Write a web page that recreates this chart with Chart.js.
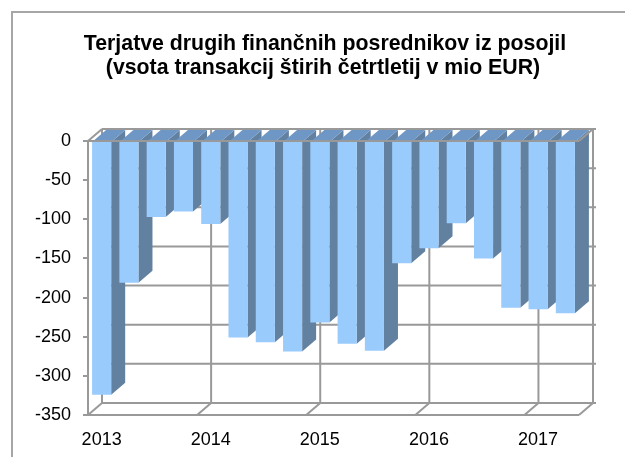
<!DOCTYPE html>
<html>
<head>
<meta charset="utf-8">
<script src="https://cdn.jsdelivr.net/npm/chart.js@4/dist/chart.umd.min.js"></script>
<style>
  html, body { margin: 0; padding: 0; background: #fff; }
  #wrap { position: relative; width: 625px; height: 457px; overflow: hidden; }
  #frame { position: absolute; left: 11px; top: 11px; width: 700px; height: 600px;
           border-left: 2px solid #a6a6a6; border-top: 2px solid #a6a6a6; }
  canvas { position: absolute; left: 0; top: 0; }
</style>
</head>
<body>
<div id="wrap">
  <div id="frame"></div>
  <canvas id="chart" width="625" height="457"></canvas>
</div>
<script>
// quarterly data, year label on first quarter only
const categories = ["2013", "", "", "", "2014", "", "", "", "2015", "", "", "", "2016", "", "", "", "2017", ""];
const values = [-324, -181, -97, -90, -106, -251, -257, -269, -232, -259, -268, -156, -137, -105, -150, -213, -215, -220];
const yTicks = [0, -50, -100, -150, -200, -250, -300, -350];
const yearStarts = [4, 8, 12, 16];
const titleLines = ["Terjatve drugih finančnih posrednikov iz posojil", "(vsota transakcij štirih četrtletij v mio EUR)"];

const DX = 14, DY = 12;
const gridColor = "#999999";

function line(ctx, x1, y1, x2, y2) {
  ctx.beginPath();
  ctx.moveTo(x1, y1);
  ctx.lineTo(x2, y2);
  ctx.stroke();
}

// title is drawn here so it can sit off-centre like in the original
const titlePlugin = {
  id: "titlePlugin",
  afterDraw(chart) {
    const ctx = chart.ctx;
    ctx.save();
    ctx.fillStyle = "#000";
    ctx.font = "bold 21.3px 'Liberation Sans'";
    ctx.textAlign = "center";
    ctx.textBaseline = "alphabetic";
    ctx.fillText(titleLines[0], 325, 50);
    ctx.fillText(titleLines[1], 323, 74);
    ctx.restore();
  }
};

const bars3d = {
  id: "bars3d",
  beforeDatasetsDraw(chart) {
    const ctx = chart.ctx;
    const a = chart.chartArea;
    const x = chart.scales.x, y = chart.scales.y;
    const catW = (x.right - x.left) / categories.length;
    const y0 = y.getPixelForValue(0), yMin = y.getPixelForValue(-350);

    ctx.save();
    ctx.strokeStyle = gridColor;
    ctx.lineWidth = 2;
    // back wall
    yTicks.forEach(v => {
      const py = y.getPixelForValue(v) - DY;
      line(ctx, a.left + DX, py, a.right + DX + 3, py);
    });
    yearStarts.forEach(i => {
      const px = x.left + i * catW + DX;
      line(ctx, px, y0 - DY, px, yMin - DY);
    });
    line(ctx, a.left + DX, y0 - DY, a.left + DX, yMin - DY);
    line(ctx, a.right + DX, y0 - DY, a.right + DX, yMin - DY);
    // floor
    line(ctx, a.left, yMin, a.right, yMin);
    [0, ...yearStarts, categories.length].forEach(i => {
      const px = x.left + i * catW;
      line(ctx, px, yMin, px + DX, yMin - DY);
    });

    // side and top faces of the bars
    const meta = chart.getDatasetMeta(0);
    meta.data.forEach(bar => {
      const p = bar.getProps(["x", "y", "base", "width"], true);
      const x1 = p.x - p.width / 2, x2 = p.x + p.width / 2;
      ctx.fillStyle = "#62809f";
      ctx.beginPath();
      ctx.moveTo(x2, p.base);
      ctx.lineTo(x2 + DX, p.base - DY);
      ctx.lineTo(x2 + DX, p.y - DY);
      ctx.lineTo(x2, p.y);
      ctx.closePath();
      ctx.fill();
      ctx.fillStyle = "#6f97c6";
      ctx.beginPath();
      ctx.moveTo(x1, p.base);
      ctx.lineTo(x2, p.base);
      ctx.lineTo(x2 + DX, p.base - DY);
      ctx.lineTo(x1 + DX, p.base - DY);
      ctx.closePath();
      ctx.fill();
    });
    ctx.restore();
  },
  afterDatasetsDraw(chart) {
    const ctx = chart.ctx;
    const a = chart.chartArea;
    const y0 = chart.scales.y.getPixelForValue(0);
    ctx.save();
    ctx.strokeStyle = gridColor;
    ctx.lineWidth = 2;
    line(ctx, a.left, y0, a.right, y0);
    line(ctx, a.left, y0, a.left + DX, y0 - DY);
    line(ctx, a.right, y0, a.right + DX, y0 - DY);
    ctx.restore();
  }
};

const ctx = document.querySelector("#chart").getContext("2d");

const chart = new Chart(ctx, {
  type: "bar",
  data: {
    labels: categories,
    datasets: [{
      data: values,
      backgroundColor: "#9acbfd",
      borderWidth: 0,
      barPercentage: 0.7,
      categoryPercentage: 1.0,
    }],
  },
  options: {
    responsive: false,
    animation: false,
    layout: { padding: { left: 0, right: 46, top: 141, bottom: 0 } },
    plugins: {
      legend: { display: false },
      tooltip: { enabled: false },
      title: { display: false },
    },
    scales: {
      x: {
        grid: { display: false, drawTicks: false },
        border: { display: false },
        ticks: {
          autoSkip: false,
          maxRotation: 0,
          padding: 14,
          color: "#000",
          font: { family: "Liberation Sans", size: 18 },
        },
        afterFit: s => { s.height = 42; },
      },
      y: {
        min: -350,
        max: 0,
        ticks: {
          stepSize: 50,
          padding: 12,
          color: "#000",
          font: { family: "Liberation Sans", size: 18 },
        },
        grid: { drawOnChartArea: false, tickLength: 5, color: gridColor, lineWidth: 2 },
        border: { color: gridColor, width: 2 },
        afterFit: s => { s.width = 88; },
      },
    },
  },
  plugins: [bars3d, titlePlugin],
});
</script>
</body>
</html>
